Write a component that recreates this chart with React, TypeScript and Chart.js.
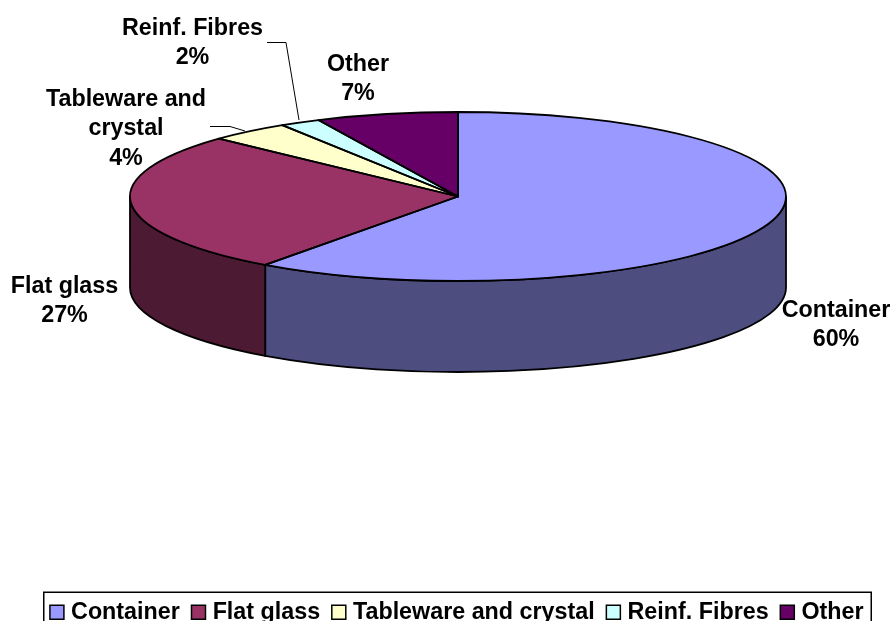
import React, { useEffect, useRef } from "react";
import { Chart, registerables } from "chart.js";

Chart.register(...registerables);

const categories = ["Container", "Flat glass", "Tableware and crystal", "Reinf. Fibres", "Other"];
const shares = [60, 27, 4, 2, 7];
const topColors = ["#9999FF", "#993366", "#FFFFCC", "#CCFFFF", "#660066"];
const sideColors = ["#4D4D80", "#4D1A33", "#808066", "#668080", "#330033"];
const labelLines = [["Container"], ["Flat glass"], ["Tableware and", "crystal"], ["Reinf. Fibres"], ["Other"]];
const labelCentersX = [836, 64.5, 126, 192.5, 358];
const labelBaselines = [317, 293, 106, 35, 71];

const FONT = "Liberation Sans, Arial, sans-serif";
const RADIUS = 328;
const SQUASH = 84.5 / 328;
const CENTER_X = 458;
const TOP_Y = 196.5;
const DEPTH = 91;
const LINE_W = 1.8;

function project(ctx: CanvasRenderingContext2D, arc: any, offset: number) {
  ctx.setTransform(1, 0, 0, 1, 0, 0);
  ctx.translate(CENTER_X, TOP_Y + offset);
  ctx.scale(1, SQUASH);
  ctx.translate(-arc.x, -arc.y);
}

const pie3d = {
  id: "pie3d",
  beforeDatasetsDraw(chart: any) {
    const ctx = chart.ctx as CanvasRenderingContext2D;
    const arcs = chart.getDatasetMeta(0).data;
    ctx.save();
    arcs.forEach((arc: any, i: number) => {
      const a = Math.max(arc.startAngle, 0);
      const b = Math.min(arc.endAngle, Math.PI);
      if (b <= a) return;
      ctx.beginPath();
      project(ctx, arc, 0);
      ctx.arc(arc.x, arc.y, arc.outerRadius, a, b);
      project(ctx, arc, DEPTH);
      ctx.arc(arc.x, arc.y, arc.outerRadius, b, a, true);
      ctx.closePath();
      ctx.setTransform(1, 0, 0, 1, 0, 0);
      ctx.fillStyle = sideColors[i];
      ctx.strokeStyle = "#000";
      ctx.lineWidth = LINE_W;
      ctx.fill();
      ctx.stroke();
    });
    if (arcs.length) project(ctx, arcs[0], 0);
  },
  afterDatasetsDraw(chart: any) {
    const ctx = chart.ctx as CanvasRenderingContext2D;
    const arcs = chart.getDatasetMeta(0).data;
    ctx.restore();
    ctx.save();
    arcs.forEach((arc: any) => {
      ctx.beginPath();
      project(ctx, arc, 0);
      ctx.moveTo(arc.x, arc.y);
      ctx.arc(arc.x, arc.y, arc.outerRadius, arc.startAngle, arc.endAngle);
      ctx.closePath();
      ctx.setTransform(1, 0, 0, 1, 0, 0);
      ctx.strokeStyle = "#000";
      ctx.lineWidth = LINE_W;
      ctx.lineJoin = "round";
      ctx.stroke();
    });
    ctx.restore();
  },
  afterDraw(chart: any) {
    const ctx = chart.ctx as CanvasRenderingContext2D;
    ctx.save();
    ctx.fillStyle = "#000";
    ctx.font = `bold 23.3px ${FONT}`;
    ctx.textAlign = "center";
    ctx.textBaseline = "alphabetic";
    labelLines.forEach((lines, i) => {
      const all = [...lines, `${shares[i]}%`];
      all.forEach((t, k) => ctx.fillText(t, labelCentersX[i], labelBaselines[i] + k * 29.3));
    });
    ctx.strokeStyle = "#000";
    ctx.lineWidth = 1;
    ctx.beginPath();
    ctx.moveTo(267, 42.5);
    ctx.lineTo(286, 42.5);
    ctx.lineTo(299, 120);
    ctx.moveTo(210, 126.5);
    ctx.lineTo(230, 126.5);
    ctx.lineTo(245, 131);
    ctx.stroke();
    ctx.lineWidth = 1.5;
    ctx.strokeRect(43.75, 592.25, 827.5, 40);
    ctx.restore();
  },
};

export default function App() {
  const ref = useRef<HTMLCanvasElement>(null);
  useEffect(() => {
    document.body.style.margin = "0";
    const base = (Chart as any).overrides.pie.plugins.legend.labels.generateLabels
      || (Chart as any).overrides.doughnut.plugins.legend.labels.generateLabels;
    const chart = new Chart(ref.current as HTMLCanvasElement, {
      type: "pie",
      data: {
        labels: categories,
        datasets: [
          {
            data: shares,
            backgroundColor: topColors,
            borderWidth: 0,
            clip: false,
            radius: RADIUS,
          } as any,
        ],
      },
      options: {
        animation: false,
        responsive: false,
        events: [],
        layout: { padding: { left: 25, right: 0, top: 0, bottom: -13 } },
        plugins: {
          tooltip: { enabled: false },
          legend: {
            display: true,
            position: "bottom",
            labels: {
              font: { family: FONT, size: 23.3, weight: "bold" },
              color: "#000",
              boxWidth: 5,
              boxHeight: 14,
              usePointStyle: true,
              pointStyle: "rect",
              padding: 16.2,
              generateLabels: (c: any) =>
                base(c).map((l: any) => ({ ...l, strokeStyle: "#000", lineWidth: 1.5 })),
            },
          },
        },
      },
      plugins: [pie3d as any],
    });
    return () => chart.destroy();
  }, []);
  return <canvas ref={ref} width={893} height={621} style={{ display: "block" }} />;
}
